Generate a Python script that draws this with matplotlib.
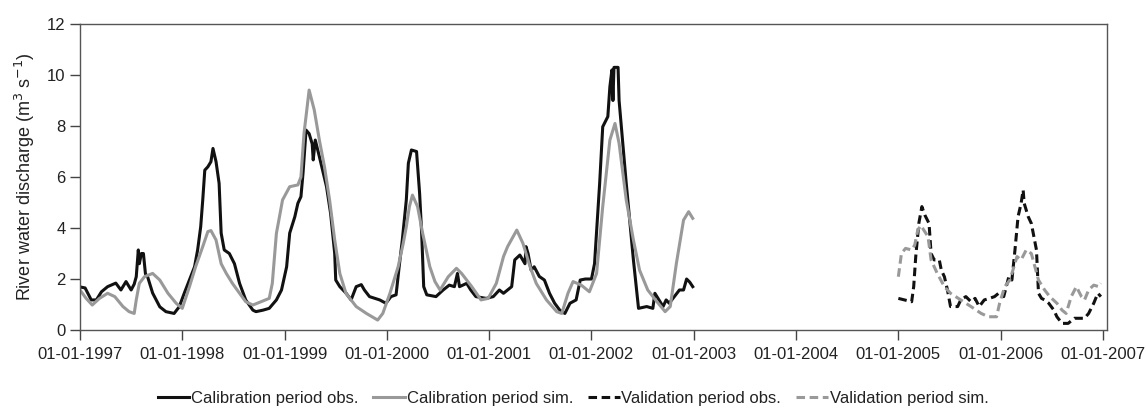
import matplotlib
matplotlib.use("Agg")
import matplotlib.pyplot as plt

plt.rcParams['font.family'] = ['Liberation Sans', 'DejaVu Sans']

# --- data (decimal year, m3/s) ---
cal_obs_t = [1997.00, 1997.05, 1997.11, 1997.16, 1997.21, 1997.27, 1997.35, 1997.40, 1997.45, 1997.50,
             1997.53, 1997.55, 1997.57, 1997.58, 1997.60, 1997.62, 1997.64, 1997.66, 1997.71, 1997.78,
             1997.84, 1997.92, 1997.97, 1998.02, 1998.07, 1998.12, 1998.15, 1998.18, 1998.20, 1998.22,
             1998.25, 1998.28, 1998.30, 1998.33, 1998.36, 1998.38, 1998.41, 1998.46, 1998.51, 1998.56,
             1998.62, 1998.69, 1998.72, 1998.79, 1998.85, 1998.92, 1998.97, 1999.02, 1999.05, 1999.10,
             1999.13, 1999.16, 1999.18, 1999.21, 1999.24, 1999.27, 1999.28, 1999.30, 1999.34, 1999.41,
             1999.45, 1999.49, 1999.50, 1999.54, 1999.60, 1999.65, 1999.70, 1999.75, 1999.78, 1999.83,
             1999.93, 1999.99, 2000.04, 2000.09, 2000.12, 2000.15, 2000.19, 2000.21, 2000.24, 2000.29,
             2000.32, 2000.34, 2000.36, 2000.39, 2000.48, 2000.55, 2000.61, 2000.66, 2000.69, 2000.71,
             2000.78, 2000.82, 2000.87, 2000.97, 2001.04, 2001.10, 2001.14, 2001.22, 2001.25, 2001.30,
             2001.35, 2001.36, 2001.38, 2001.41, 2001.44, 2001.49, 2001.54, 2001.59, 2001.64, 2001.69,
             2001.74, 2001.79, 2001.85, 2001.89, 2001.94, 2002.00, 2002.03, 2002.08, 2002.11, 2002.16,
             2002.18, 2002.20, 2002.21, 2002.22, 2002.26, 2002.27, 2002.34, 2002.41, 2002.46, 2002.54,
             2002.60, 2002.62, 2002.66, 2002.70, 2002.73, 2002.76, 2002.86, 2002.90, 2002.93, 2002.96,
             2002.99]
cal_obs_q = [1.69, 1.65, 1.18, 1.18, 1.50, 1.70, 1.84, 1.57, 1.90, 1.57,
             1.80, 2.09, 3.14, 2.60, 3.00, 3.00, 2.20, 2.10, 1.45, 0.91,
             0.72, 0.65, 0.91, 1.45, 1.96, 2.48, 3.14, 4.05, 5.10, 6.27,
             6.40, 6.60, 7.12, 6.60, 5.75, 3.80, 3.14, 3.00, 2.60, 1.83,
             1.18, 0.78, 0.72, 0.78, 0.85, 1.18, 1.57, 2.48, 3.80, 4.44,
             4.97, 5.23, 6.14, 7.84, 7.70, 7.30, 6.67, 7.45, 6.80, 5.62,
             4.57, 3.00, 1.96, 1.70, 1.45, 1.18, 1.70, 1.78, 1.57, 1.31,
             1.18, 1.05, 1.31, 1.38, 2.48, 3.50, 5.10, 6.54, 7.06, 7.00,
             5.36, 3.80, 1.70, 1.38, 1.31, 1.57, 1.76, 1.70, 2.22, 1.70,
             1.83, 1.57, 1.31, 1.24, 1.31, 1.57, 1.44, 1.70, 2.75, 2.94,
             2.60, 3.27, 3.00, 2.35, 2.48, 2.10, 1.96, 1.44, 1.05, 0.78,
             0.65, 1.05, 1.18, 1.96, 2.00, 2.00, 2.60, 5.75, 7.97, 8.37,
             9.54, 10.2, 9.00, 10.3, 10.3, 9.00, 5.75, 2.75, 0.85, 0.92,
             0.85, 1.44, 1.18, 0.92, 1.18, 1.05, 1.57, 1.57, 2.00, 1.88,
             1.70]

cal_sim_t = [1997.00, 1997.06, 1997.12, 1997.19, 1997.27, 1997.34, 1997.42, 1997.48, 1997.53, 1997.55,
             1997.58, 1997.63, 1997.71, 1997.78, 1997.86, 1997.94, 1998.00, 1998.07, 1998.13, 1998.20,
             1998.25, 1998.28, 1998.33, 1998.38, 1998.43, 1998.49, 1998.56, 1998.62, 1998.69, 1998.77,
             1998.85, 1998.88, 1998.92, 1998.95, 1998.98, 1999.05, 1999.13, 1999.16, 1999.19, 1999.24,
             1999.29, 1999.34, 1999.39, 1999.44, 1999.49, 1999.54, 1999.60, 1999.70, 1999.80, 1999.91,
             1999.96, 2000.03, 2000.11, 2000.16, 2000.19, 2000.22, 2000.25, 2000.30, 2000.35, 2000.42,
             2000.47, 2000.52, 2000.60, 2000.68, 2000.73, 2000.83, 2000.92, 2000.99, 2001.07, 2001.14,
             2001.18, 2001.27, 2001.33, 2001.40, 2001.46, 2001.56, 2001.66, 2001.71, 2001.77, 2001.82,
             2001.90, 2001.98, 2002.05, 2002.11, 2002.18, 2002.23, 2002.27, 2002.34, 2002.41, 2002.47,
             2002.55, 2002.64, 2002.72, 2002.77, 2002.83, 2002.90, 2002.95, 2002.99]
cal_sim_q = [1.57, 1.24, 0.98, 1.24, 1.44, 1.31, 0.92, 0.72, 0.65, 1.18,
             1.83, 2.09, 2.22, 1.96, 1.44, 1.05, 0.85, 1.70, 2.48, 3.27,
             3.86, 3.90, 3.53, 2.60, 2.22, 1.83, 1.44, 1.11, 0.98, 1.11,
             1.24, 1.83, 3.79, 4.44, 5.10, 5.62, 5.69, 6.00, 7.71, 9.41,
             8.63, 7.45, 6.40, 5.10, 3.53, 2.22, 1.44, 0.92, 0.65, 0.39,
             0.65, 1.44, 2.48, 3.40, 4.05, 4.84, 5.29, 4.84, 3.79, 2.48,
             1.90, 1.57, 2.09, 2.42, 2.22, 1.70, 1.18, 1.24, 1.83, 2.88,
             3.27, 3.92, 3.40, 2.48, 1.83, 1.18, 0.72, 0.65, 1.44, 1.90,
             1.76, 1.50, 2.22, 4.84, 7.45, 8.10, 7.32, 5.10, 3.53, 2.35,
             1.57, 1.11, 0.72, 0.92, 2.61, 4.31, 4.64, 4.38]

val_obs_t = [2005.00, 2005.06, 2005.13, 2005.15, 2005.17, 2005.20, 2005.23, 2005.26, 2005.30, 2005.32,
             2005.35, 2005.40, 2005.42, 2005.45, 2005.48, 2005.51, 2005.58, 2005.61, 2005.66, 2005.71,
             2005.75, 2005.79, 2005.84, 2005.89, 2005.94, 2005.98, 2006.03, 2006.08, 2006.11, 2006.14,
             2006.17, 2006.20, 2006.22, 2006.23, 2006.27, 2006.30, 2006.35, 2006.37, 2006.40, 2006.43,
             2006.47, 2006.52, 2006.55, 2006.60, 2006.66, 2006.72, 2006.77, 2006.82, 2006.86, 2006.91,
             2006.95, 2006.98]
val_obs_q = [1.24, 1.18, 1.11, 1.70, 2.88, 4.18, 4.84, 4.50, 4.18, 3.00,
             2.75, 2.75, 2.35, 2.09, 1.57, 0.92, 0.92, 1.18, 1.31, 1.11,
             1.24, 0.92, 1.18, 1.24, 1.31, 1.44, 1.31, 2.09, 1.96, 3.14,
             4.44, 4.97, 5.49, 4.97, 4.44, 4.18, 3.14, 1.44, 1.24, 1.18,
             1.05, 0.78, 0.52, 0.26, 0.26, 0.46, 0.46, 0.46, 0.65, 1.05,
             1.44, 1.31]

val_sim_t = [2005.00, 2005.03, 2005.07, 2005.13, 2005.16, 2005.19, 2005.22, 2005.29, 2005.32, 2005.38,
             2005.45, 2005.51, 2005.61, 2005.71, 2005.81, 2005.88, 2005.96, 2005.99, 2006.04, 2006.09,
             2006.12, 2006.16, 2006.20, 2006.25, 2006.30, 2006.37, 2006.43, 2006.48, 2006.55, 2006.60,
             2006.64, 2006.69, 2006.74, 2006.79, 2006.82, 2006.86, 2006.91, 2006.96, 2006.98]
val_sim_q = [2.09, 3.00, 3.20, 3.14, 3.33, 3.92, 4.10, 3.66, 2.75, 2.22,
             1.70, 1.44, 1.18, 0.92, 0.65, 0.52, 0.52, 1.05, 1.70, 1.96,
             2.35, 2.88, 2.75, 3.14, 3.00, 1.96, 1.57, 1.31, 1.05, 0.78,
             0.65, 1.31, 1.70, 1.31, 1.18, 1.57, 1.76, 1.70, 1.83]

tick_years = list(range(1997, 2008))
tick_labels = ["01-01-%d" % y for y in tick_years]
y_ticks = [0, 2, 4, 6, 8, 10, 12]

# --- plot ---
fig = plt.figure(figsize=(11.46, 4.17), dpi=100)
ax = fig.add_axes([0.0698, 0.2086, 0.8962, 0.7338])

black = '#111111'
grey = '#999999'
lw = 2.2
ax.plot(cal_obs_t, cal_obs_q, color=black, lw=lw, label='Calibration period obs.')
ax.plot(cal_sim_t, cal_sim_q, color=grey, lw=lw, label='Calibration period sim.')
ax.plot(val_obs_t, val_obs_q, color=black, lw=lw, ls=(0, (2.8, 1.5)), label='Validation period obs.')
ax.plot(val_sim_t, val_sim_q, color=grey, lw=lw, ls=(0, (2.8, 1.5)), label='Validation period sim.')

ax.set_xlim(1997, 2007.04)
ax.set_ylim(0, 12)
ax.set_xticks(tick_years)
ax.set_xticklabels(tick_labels)
ax.set_yticks(y_ticks)
ax.tick_params(axis='both', labelsize=12, length=7, width=1, color='#444444',
               labelcolor='#222222', direction='out')
ax.tick_params(axis='x', pad=5)
for s in ax.spines.values():
    s.set_color('#555555')
    s.set_linewidth(1.0)

ax.set_ylabel('River water discharge (m$^3$ s$^{-1}$)', fontsize=13, labelpad=7, color='#222222')

fig.legend(loc='center', bbox_to_anchor=(0.5, 0.045), ncol=4, frameon=False, fontsize=12,
           handlelength=1.9, handletextpad=0.1, columnspacing=0.9, labelcolor='#222222')

fig.savefig('out.png', dpi=100)
